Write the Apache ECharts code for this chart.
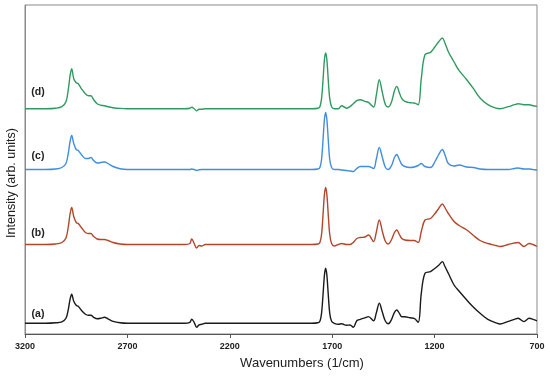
<!DOCTYPE html>
<html>
<head>
<meta charset="utf-8">
<script src="https://cdn.jsdelivr.net/npm/echarts@6/dist/echarts.min.js"></script>
<style>
  html, body { margin: 0; padding: 0; background: #fff; }
  #chart { width: 550px; height: 376px; }
</style>
</head>
<body>
<div id="chart"></div>
<script>
// Wavenumbers (1/cm) at which the spectra were read
var wavenumbers = [3200, 3100, 3050, 3020, 3000, 2988, 2980, 2972, 2962, 2950, 2940, 2925, 2905, 2890, 2878, 2865, 2848, 2830, 2812, 2795, 2770, 2736, 2700,
  2600, 2500, 2420, 2395, 2386, 2374, 2362, 2350, 2337, 2320, 2250, 2100, 1950, 1800,
  1770, 1760, 1752, 1745, 1738, 1732, 1726, 1719, 1712, 1703, 1690,
  1670, 1654, 1630, 1613, 1597, 1580, 1563, 1540, 1523, 1498,
  1485, 1470, 1455, 1440, 1426, 1410, 1396, 1385, 1372, 1360,
  1345, 1320, 1300, 1280, 1265, 1247, 1220, 1198, 1180, 1162,
  1150, 1133, 1105, 1080, 1043, 1010, 978, 940, 900, 881,
  840, 810, 792, 764, 738, 720, 700];

// Intensity above each spectrum's own baseline (arb. units)
var specA = [0, 0, 0.5, 1.5, 5, 14.5, 24, 29, 22, 18, 17, 13, 9, 8, 8, 6, 4.5, 5, 6, 4.5, 2, 0.5, 0,
  0, 0, 0, 1, 4, 1, -4, -1.5, -1, 0, 0, 0, 0, 0,
  0.5, 2, 10, 28, 48, 55, 48, 28, 10, 2, 0,
  -1, -0.5, -2, -1.7, -4, 2.5, 4, 5.5, 6.7, 2.5,
  10, 20, 11, 2, -0.5, 4, 11, 13.3, 10, 6.5,
  6.5, 5.5, 5, 1, 30, 50, 51.7, 55, 58, 61.7,
  57, 50, 38.3, 32, 23.3, 16, 10, 4, 0.5, -0.7,
  2, 4, 5, 1.7, 5, 4, 2.5];
var specB = [0, 0, 0.5, 2, 6.5, 18.5, 30.5, 37, 28, 22, 21, 17, 12, 11, 11, 8, 5.5, 5, 5, 4, 2, 0.5, 0,
  0, 0, 0, 1, 5.5, 1, -3.5, -1, -1.5, 0, 0, 0, 0, 0,
  0.5, 2, 10, 29, 50, 57, 50, 29, 10, 1, -1.5,
  0, 1, 0, 0, 2, 6, 7, 7.5, 9.5, 3,
  12, 24.5, 13, 3, 0.5, 5, 12, 14.5, 10, 6,
  4.5, 4, 4, 2, 13, 24.5, 26, 31, 36, 40.5,
  37, 31, 23, 19, 14.5, 9, 4, 1, -1, -2,
  0, 1.5, 2, -2, 1, 0, -2];
var specC = [0, 0, 0.5, 2, 6, 17, 28, 34, 26, 20, 19, 15, 11, 11, 12, 9, 6.5, 7, 7.5, 6, 3, 0.8, 0,
  0, 0, 0, 0, 0.5, 0, -1, -0.3, 0, 0, 0, 0, 0, 0,
  0.5, 2, 10, 29, 50, 57, 50, 29, 10, 2, 0,
  0, -0.5, -1, -1.5, -2, 1, 3, 3, 3, 1,
  10, 22, 12, 2, 0, 4, 12, 15, 10, 5,
  3, 2, 2.5, 4, 6, 3, 2, 8, 15, 20,
  15, 6, 3.5, 4.5, 2.5, 2, 0.5, 0, 0, 0,
  0, 1, 1.5, 0.5, 0.5, 0, -0.5];
var specD = [0, 0, 0.5, 2, 7, 20, 33, 40, 30, 26, 25, 20, 15, 13, 13, 9, 5, 3.5, 3, 2, 1, 0.3, 0,
  0, 0, 0, 0.5, 1.5, 0, -2, -0.5, -0.5, 0, 0, 0, 0, 0,
  0.5, 2, 10, 28, 49, 55.7, 49, 28, 10, 2, 0,
  0, 3, 0.5, 2, 5, 8, 9, 7.3, 6.3, 1.7,
  13, 29, 16, 4, 1.7, 7, 18, 22.3, 16, 10,
  7.3, 6, 5.7, 4, 30, 54, 56.3, 62, 67, 70.7,
  66, 57, 46.7, 38, 29, 20, 10.7, 4, 0.5, 0,
  2, 4, 5, 4, 4, 3, 2.3];

// Vertical offsets used to stack the spectra
var offsets = { a: 10.7, b: 89.5, c: 164.5, d: 225.3 };
var seriesLabels = ['(a)', '(b)', '(c)', '(d)'];
var xTicks = [700, 1200, 1700, 2200, 2700, 3200];

function build(vals, off) {
  return wavenumbers.map(function (w, i) { return [w, vals[i] + off]; });
}

var colors = { a: '#1a1a1a', b: '#b2472b', c: '#3f8ee0', d: '#2f9a5f' };
var font = 'Liberation Sans, Arial, sans-serif';

function line(name, data, color) {
  return {
    name: name, type: 'line', data: data, smooth: 0.35, symbol: 'none',
    lineStyle: { color: color, width: 1.4 }, silent: true, animation: false
  };
}

var chart = echarts.init(document.getElementById('chart'), null, { renderer: 'canvas' });
chart.setOption({
  animation: false,
  grid: { left: 25, right: 13, top: 5, bottom: 42, show: true, borderColor: '#8a8a8a', borderWidth: 1 },
  xAxis: {
    type: 'value', inverse: true, min: 700, max: 3200,
    axisLine: { show: true, lineStyle: { color: '#555', width: 1 } },
    axisTick: { show: true, length: 4, inside: false, customValues: xTicks, lineStyle: { color: '#555' } },
    axisLabel: { customValues: xTicks, formatter: function (v) { return String(v); },
      fontSize: 9, fontWeight: 'bold', color: '#222', margin: 8, fontFamily: font },
    splitLine: { show: false }
  },
  yAxis: {
    type: 'value', min: 0, max: 329,
    axisLine: { show: true, lineStyle: { color: '#8a8a8a' } },
    axisTick: { show: false }, axisLabel: { show: false }, splitLine: { show: false }
  },
  series: [
    line(seriesLabels[0], build(specA, offsets.a), colors.a),
    line(seriesLabels[1], build(specB, offsets.b), colors.b),
    line(seriesLabels[2], build(specC, offsets.c), colors.c),
    line(seriesLabels[3], build(specD, offsets.d), colors.d)
  ],
  graphic: [
    { type: 'text', x: 12, y: 183, rotation: Math.PI / 2,
      style: { text: 'Intensity (arb. units)', fontSize: 12.5, fill: '#222', fontFamily: font, textAlign: 'center', textVerticalAlign: 'middle' } },
    { type: 'text', x: 302, y: 363,
      style: { text: 'Wavenumbers (1/cm)', fontSize: 13, fill: '#222', fontFamily: font, textAlign: 'center', textVerticalAlign: 'middle' } },
    { type: 'text', x: 38, y: 314, style: { text: seriesLabels[0], fontSize: 10.5, fontWeight: 'bold', fill: '#222', fontFamily: font, textAlign: 'center', textVerticalAlign: 'middle' } },
    { type: 'text', x: 38, y: 233, style: { text: seriesLabels[1], fontSize: 10.5, fontWeight: 'bold', fill: '#222', fontFamily: font, textAlign: 'center', textVerticalAlign: 'middle' } },
    { type: 'text', x: 38, y: 156, style: { text: seriesLabels[2], fontSize: 10.5, fontWeight: 'bold', fill: '#222', fontFamily: font, textAlign: 'center', textVerticalAlign: 'middle' } },
    { type: 'text', x: 38, y: 92.5, style: { text: seriesLabels[3], fontSize: 10.5, fontWeight: 'bold', fill: '#222', fontFamily: font, textAlign: 'center', textVerticalAlign: 'middle' } }
  ]
});
</script>
</body>
</html>
